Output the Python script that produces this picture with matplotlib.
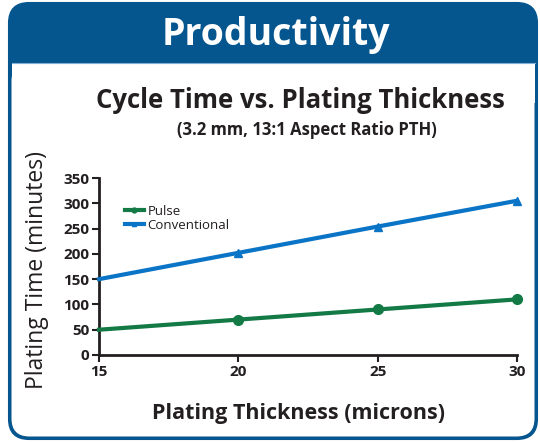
import matplotlib
matplotlib.use("Agg")
import matplotlib.pyplot as plt
from matplotlib.patches import FancyBboxPatch, Rectangle

thickness = [15, 20, 25, 30]
pulse = [50, 70, 90, 110]
conventional = [150, 202, 254, 305]
yticks = [0, 50, 100, 150, 200, 250, 300, 350]
xticks = [15, 20, 25, 30]

plt.rcParams['font.family'] = 'Open Sans'

W, H = 540, 442
fig = plt.figure(figsize=(W / 100, H / 100), dpi=100)

# background frame
bg = fig.add_axes([0, 0, 1, 1])
bg.set_xlim(0, W)
bg.set_ylim(H, 0)
bg.axis('off')
blue = '#05568F'
bg.add_patch(FancyBboxPatch((9, 3), 528, 436, boxstyle="round,pad=0,rounding_size=20",
                            fc=blue, ec=blue, lw=1.5))
bg.add_patch(FancyBboxPatch((11.5, 63), 523, 373.5, boxstyle="round,pad=0,rounding_size=18",
                            fc='white', ec='none'))
bg.add_patch(Rectangle((11.5, 63), 523, 40, fc='white', ec='none'))
bg.plot([11.5, 534.5], [63, 63], color='#7FB0D6', lw=0.8)
bg.text(276, 35, 'Productivity', color='white', fontsize=27, fontweight='bold',
        family='Open Sans', ha='center', va='center')
bg.text(300, 100, 'Cycle Time vs. Plating Thickness', color='#231F20', fontsize=18.5,
        fontweight='bold', ha='center', va='center')
bg.text(307, 130, '(3.2 mm, 13:1 Aspect Ratio PTH)', color='#231F20', fontsize=12,
        fontweight='bold', ha='center', va='center')
bg.text(299, 414, 'Plating Thickness (microns)', color='#231F20', fontsize=15.5,
        fontweight='bold', family='Open Sans', ha='center', va='center')
bg.text(37, 270, 'Plating Time (minutes)', color='#231F20', fontsize=16.5,
        rotation=90, ha='center', va='center')

# chart axes: left 99, right 517, top 178, bottom 355 (pixels)
ax = fig.add_axes([99 / W, 1 - 355 / H, (517 - 99) / W, (355 - 178) / H])
ax.plot(thickness, pulse, color='#137A45', lw=3, marker='o', ms=7,
        markevery=[1, 2, 3], clip_on=False, label='Pulse', zorder=3)
ax.plot(thickness, conventional, color='#0A74C6', lw=3, marker='^', ms=6,
        markevery=[1, 2, 3], clip_on=False, label='Conventional', zorder=3)
ax.set_xlim(15, 30)
ax.set_ylim(0, 350)
ax.set_xticks(xticks)
ax.set_yticks(yticks)
for s in ['top', 'right']:
    ax.spines[s].set_visible(False)
for s in ['left', 'bottom']:
    ax.spines[s].set_linewidth(2)
    ax.spines[s].set_color('#231F20')
ax.tick_params(direction='out', length=5, width=1.5, color='#231F20',
               labelsize=11, labelcolor='#231F20', pad=2)
for lab in ax.get_xticklabels() + ax.get_yticklabels():
    lab.set_fontweight('bold')
leg = ax.legend(loc='upper left', bbox_to_anchor=(0.05, 0.88), frameon=False,
                fontsize=9.5, handlelength=1.4, handletextpad=0.3,
                labelspacing=0.1, borderaxespad=0, markerscale=0.5)
for t in leg.get_texts():
    t.set_color('#231F20')

fig.savefig('out.png', dpi=100)
